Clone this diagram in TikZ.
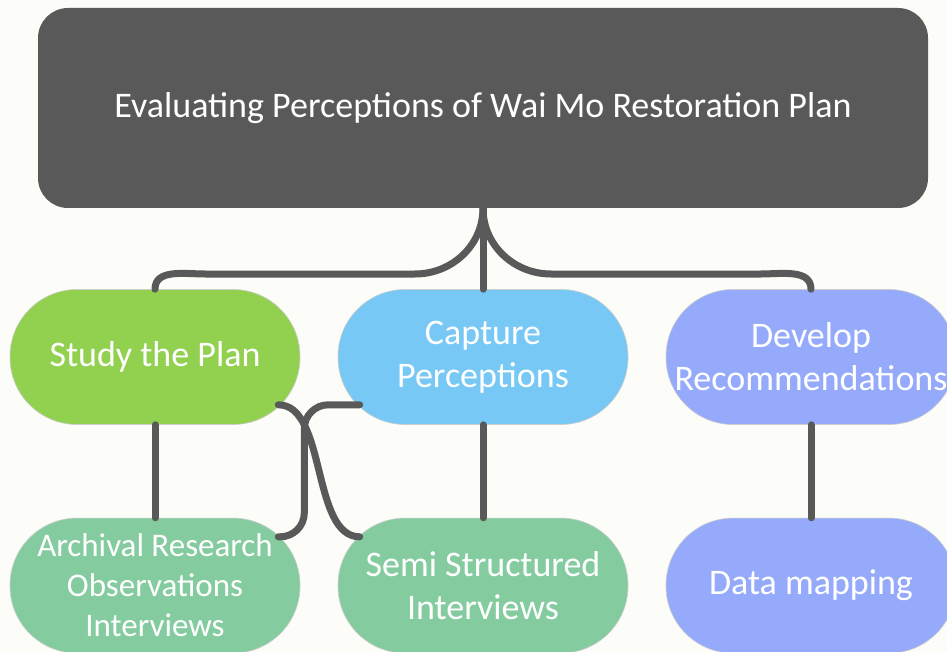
\documentclass[tikz,border=0pt]{standalone}
\usepackage{fontspec}
\setmainfont{Carlito}
\usepackage{xcolor}
\usetikzlibrary{positioning}

\definecolor{bgcream}{HTML}{FCFDF8}
\definecolor{headgray}{HTML}{595959}
\definecolor{linkgray}{HTML}{595959}
\definecolor{leafgreen}{HTML}{92D050}
\definecolor{skyblue}{HTML}{77C8F5}
\definecolor{lavender}{HTML}{95AAFB}
\definecolor{seagreen}{HTML}{84CCA0}

\begin{document}
\begin{tikzpicture}[x=1pt, y=-1pt,
    every node/.style = {font=\fontsize{36}{43}\selectfont, text=white, align=center},
    pill/.style = {rectangle, rounded corners=67pt, minimum width=290pt, minimum height=135pt,
        draw=gray!40, line width=0.6pt, inner sep=0pt},
    link/.style = {draw=linkgray, line width=7pt, line cap=round}]
        \fill[bgcream] (0, 0) rectangle (947, 652);
        \useasboundingbox (0, 0) rectangle (947, 652);

        \node[rectangle, rounded corners=30pt, fill=headgray, minimum width=890pt, minimum height=200pt] (Ntitle) at (483, 108) {Evaluating Perceptions of Wai Mo Restoration Plan};

        \node[pill, fill=leafgreen] (Nstudy) at (155, 357) {Study the Plan};
        \node[pill, fill=skyblue] (Ncapture) at (483, 357) {Capture\\Perceptions};
        \node[pill, fill=lavender] (Ndevelop) at (811, 357) {Develop\\Recommendations};

        \node[pill, fill=seagreen, below = 93pt of Nstudy, font=\fontsize{33}{40}\selectfont] (Narchival) {Archival Research\\Observations\\Interviews};
        \node[pill, fill=seagreen, below = 93pt of Ncapture] (Nsemi) {Semi Structured\\Interviews};
        \node[pill, fill=lavender, below = 93pt of Ndevelop] (Nmapping) {Data mapping};

        \draw[link] (Ntitle.south) -- (Ncapture.north);
        \draw[link] (Ntitle.south) to[out=-90, in=0] (415, 274) -- (205, 274) to[out=180, in=90] (Nstudy.north);
        \draw[link] (Ntitle.south) to[out=-90, in=180] (551, 274) -- (761, 274) to[out=0, in=90] (Ndevelop.north);

        \draw[link] (Nstudy) -- (Narchival);
        \draw[link] (Ncapture) -- (Nsemi);
        \draw[link] (Ndevelop) -- (Nmapping);

        \coordinate (Sa) at ([xshift=-22pt, yshift=20pt]Nstudy.south east);
        \coordinate (Sb) at ([xshift=22pt, yshift=20pt]Ncapture.south west);
        \coordinate (Ea) at ([xshift=-22pt, yshift=-19pt]Narchival.north east);
        \coordinate (Eb) at ([xshift=22pt, yshift=-19pt]Nsemi.north west);
        \draw[link] (Sa) to[out=0, in=180, looseness=0.8] (Eb);
        \draw[link, rounded corners=24pt] (Sb) -| ([xshift=26pt]Ea) -- (Ea);
    \end{tikzpicture}
\end{document}
